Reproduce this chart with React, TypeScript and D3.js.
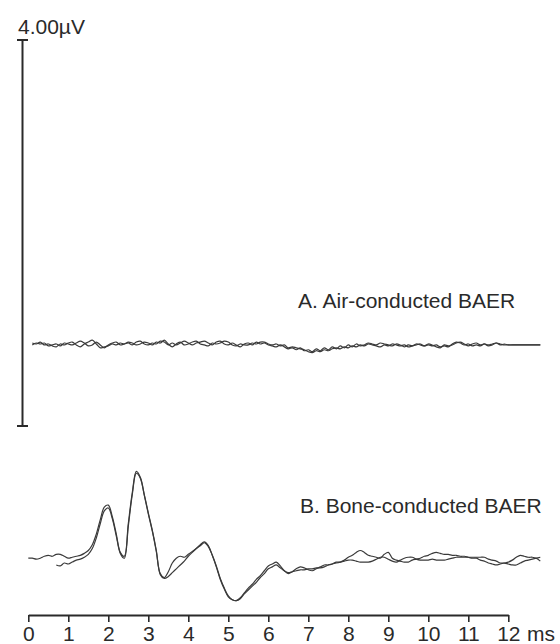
import React, { useRef, useEffect } from "react";
import * as d3 from "d3";

// time axis ticks (ms)
const tickValues = [0, 1, 2, 3, 4, 5, 6, 7, 8, 9, 10, 11, 12];

// scale bar (µV)
const scaleBarValue = 4.0;

// trace baselines, in µV relative to bottom of scale bar
const airOffset = 0.84;
const boneOffset = -1.37;

// A. air-conducted BAER, two runs, sampled every 0.1 ms from 0.1 ms (µV)
const airStart = 0.1;
const airStep = 0.1;
const air1 = [
  0.02, 0.01, 0.03, 0.0, 0.01, -0.01, -0.02, 0.01, 0.0, 0.02,
  0.03, 0.0, -0.02, 0.01, 0.03, 0.05, 0.01, -0.03, -0.02, -0.01,
  0.01, 0.0, 0.02, 0.01, 0.03, 0.02, 0.0, 0.01, 0.03, 0.02,
  0.0, 0.03, 0.02, 0.05, 0.01, -0.02, 0.01, 0.03, 0.0, 0.01,
  0.03, 0.04, 0.01, 0.0, -0.01, 0.02, 0.01, 0.02, 0.04, 0.03,
  0.0, -0.01, 0.01, 0.0, 0.0, 0.02, 0.01, 0.03, 0.03, 0.01,
  0.0, 0.01, -0.01, 0.0, -0.03, -0.02, -0.03, -0.04, -0.05, -0.07,
  -0.08, -0.06, -0.07, -0.05, -0.06, -0.04, -0.03, -0.04, -0.02, -0.03,
  -0.01, -0.02, 0.0, -0.01, 0.01, 0.0, -0.01, -0.02, 0.0, -0.01,
  0.01, 0.0, -0.01, 0.0, -0.02, -0.01, 0.0, 0.01, -0.01, 0.0,
  -0.01, 0.0, -0.02, -0.01, -0.02, 0.01, 0.03, 0.02, 0.0, 0.01,
  -0.01, 0.0, -0.01, 0.01, 0.0, 0.01, 0.02, 0.0, 0.01, 0.0,
  0.0, 0.0, 0.0, 0.0, 0.0, 0.0, 0.0, 0.0,
];
const air2 = [
  0.0, 0.02, 0.01, 0.02, -0.01, 0.0, 0.01, -0.01, 0.02, 0.01,
  0.0, 0.02, 0.04, 0.02, -0.01, 0.0, 0.03, 0.0, -0.03, 0.0,
  0.02, 0.03, 0.0, 0.01, 0.02, 0.0, 0.03, 0.04, 0.01, 0.0,
  0.02, 0.01, 0.04, 0.03, 0.0, 0.02, 0.0, 0.02, 0.04, 0.02,
  0.0, 0.02, 0.03, 0.04, 0.02, 0.0, 0.03, 0.04, 0.01, 0.0,
  0.02, 0.0, -0.02, 0.01, 0.02, 0.0, 0.03, 0.01, 0.02, 0.0,
  -0.01, -0.02, 0.0, -0.02, -0.04, -0.03, -0.05, -0.03, -0.06, -0.05,
  -0.07, -0.04, -0.06, -0.03, -0.05, -0.02, -0.04, -0.01, -0.03, 0.0,
  -0.02, 0.01, -0.01, 0.0, 0.02, 0.01, 0.0, 0.02, 0.01, 0.0,
  -0.01, 0.01, 0.0, -0.02, 0.0, -0.01, 0.01, 0.0, -0.01, 0.01,
  0.0, -0.02, -0.03, 0.0, -0.01, 0.0, 0.02, 0.03, 0.01, -0.01,
  0.01, 0.02, 0.0, 0.01, -0.01, 0.0, 0.02, 0.01, 0.0, 0.0,
  0.0, 0.0, 0.0, 0.0, 0.0, 0.0, 0.0, 0.0,
];

// B. bone-conducted BAER, two runs, sampled every 0.1 ms (µV)
const boneStep = 0.1;
const bone1Start = 0.0;
const bone1 = [
  0.0, 0.0, -0.01, 0.0, 0.02, 0.03, 0.02, 0.04, 0.04, 0.02,
  0.0, 0.01, 0.02, 0.03, 0.05, 0.08, 0.14, 0.25, 0.4, 0.53,
  0.55, 0.43, 0.25, 0.06, 0.02, 0.36, 0.68, 0.9, 0.84, 0.66,
  0.47, 0.29, 0.08, -0.17, -0.21, -0.19, -0.15, -0.11, -0.07, -0.03,
  0.02, 0.06, 0.1, 0.14, 0.17, 0.13, 0.03, -0.09, -0.22, -0.32,
  -0.4, -0.43, -0.44, -0.41, -0.36, -0.31, -0.27, -0.22, -0.18, -0.13,
  -0.08, -0.06, -0.04, -0.08, -0.13, -0.16, -0.14, -0.11, -0.09, -0.1,
  -0.12, -0.13, -0.11, -0.09, -0.07, -0.07, -0.06, -0.04, -0.04, -0.02,
  0.01, 0.03, 0.06, 0.08, 0.06, 0.03, 0.02, 0.01, 0.0, 0.04,
  0.06, 0.0, -0.02, -0.03, -0.04, -0.04, -0.02, -0.01, 0.0, 0.02,
  0.03, 0.05, 0.06, 0.05, 0.04, 0.04, 0.03, 0.03, 0.02, 0.02,
  0.01, 0.0, 0.0, -0.02, -0.03, -0.05, -0.06, -0.07, -0.06, -0.05,
  -0.04, -0.02, 0.01, 0.03, 0.02, 0.01, 0.01, 0.0, -0.03,
];
const bone2Start = 0.7;
const bone2 = [
  -0.07, -0.08, -0.05,
  -0.06, -0.04, -0.02, -0.01, 0.01, 0.04, 0.1, 0.21, 0.36, 0.49,
  0.52, 0.41, 0.23, 0.05, 0.0, 0.33, 0.66, 0.88, 0.83, 0.65,
  0.46, 0.28, 0.07, -0.16, -0.2, -0.14, -0.05, 0.0, 0.02, 0.01,
  0.04, 0.07, 0.1, 0.13, 0.16, 0.12, 0.03, -0.08, -0.21, -0.31,
  -0.39, -0.43, -0.44, -0.42, -0.37, -0.33, -0.29, -0.25, -0.2, -0.16,
  -0.11, -0.09, -0.07, -0.1, -0.13, -0.15, -0.14, -0.13, -0.12, -0.12,
  -0.11, -0.11, -0.1, -0.1, -0.09, -0.07, -0.06, -0.05, -0.04, -0.03,
  -0.02, -0.02, -0.03, -0.04, -0.04, -0.04, -0.03, -0.01, 0.01, 0.01,
  -0.01, -0.03, -0.04, -0.02, 0.0, 0.01, 0.01, -0.01, -0.02, -0.02,
  -0.02, -0.01, -0.02, -0.02, -0.02, -0.01, 0.0, 0.01, 0.01, 0.01,
  0.01, 0.01, 0.01, 0.01, 0.01, -0.01, -0.02, -0.03, -0.05, -0.05,
  -0.06, -0.07, -0.07, -0.05, -0.03, -0.02, -0.01, 0.0, 0.01,
];

const W = 560;
const H = 644;
const FONT = "'Liberation Sans', Arial, sans-serif";
const INK = "#2a2a2a";

const toPoints = (vals: number[], start: number, step: number, offset: number) =>
  vals.map((v, i) => ({ t: start + i * step, v: v + offset }));

export default function App() {
  const axisRef = useRef<SVGGElement>(null);

  const x = d3.scaleLinear().domain([0, 12]).range([28.3, 508.3]);
  const y = d3.scaleLinear().domain([0, scaleBarValue]).range([426, 40]);

  const line = d3
    .line<{ t: number; v: number }>()
    .x((d) => x(d.t))
    .y((d) => y(d.v))
    .curve(d3.curveCatmullRom);

  const traces = [
    toPoints(air1, airStart, airStep, airOffset),
    toPoints(air2, airStart, airStep, airOffset),
    toPoints(bone1, bone1Start, boneStep, boneOffset),
    toPoints(bone2, bone2Start, boneStep, boneOffset),
  ];

  useEffect(() => {
    // time axis
    const g = d3.select(axisRef.current);
    g.selectAll("*").remove();
    const axis = d3
      .axisBottom(x)
      .tickValues(tickValues)
      .tickSize(7)
      .tickSizeOuter(0)
      .tickPadding(4)
      .tickFormat((d) => String(d));
    g.call(axis);
    g.select(".domain").attr("stroke", INK).attr("stroke-width", 2);
    g.selectAll(".tick line").attr("stroke", INK).attr("stroke-width", 1.6);
    g.selectAll(".tick text")
      .attr("fill", INK)
      .style("font-family", FONT)
      .style("font-size", "21px");
  }, []);

  const barX = 22.5;

  return (
    <svg
      width={W}
      height={H}
      style={{ position: "absolute", left: 0, top: 0, background: "#fff" }}
    >
      {/* scale bar */}
      <text x={18} y={34} fill={INK} fontFamily={FONT} fontSize={21}>
        4.00µV
      </text>
      <g stroke={INK} strokeWidth={2}>
        <line x1={barX} x2={barX} y1={y(0)} y2={y(scaleBarValue)} />
        <line x1={barX - 5.5} x2={barX + 5.5} y1={y(scaleBarValue)} y2={y(scaleBarValue)} />
        <line x1={barX - 5.5} x2={barX + 5.5} y1={y(0)} y2={y(0)} />
      </g>

      {/* traces */}
      {traces.map((pts, i) => (
        <path
          key={i}
          d={line(pts) || ""}
          fill="none"
          stroke="#3a3a3a"
          strokeWidth={1.2}
          strokeLinejoin="round"
        />
      ))}

      <text x={298} y={308} fill={INK} fontFamily={FONT} fontSize={21}>
        A. Air-conducted BAER
      </text>
      <text x={300} y={513} fill={INK} fontFamily={FONT} fontSize={21}>
        B. Bone-conducted BAER
      </text>

      <g ref={axisRef} transform={`translate(0, 615)`} />
      <text x={527} y={641} fill={INK} fontFamily={FONT} fontSize={21}>
        ms
      </text>
    </svg>
  );
}
